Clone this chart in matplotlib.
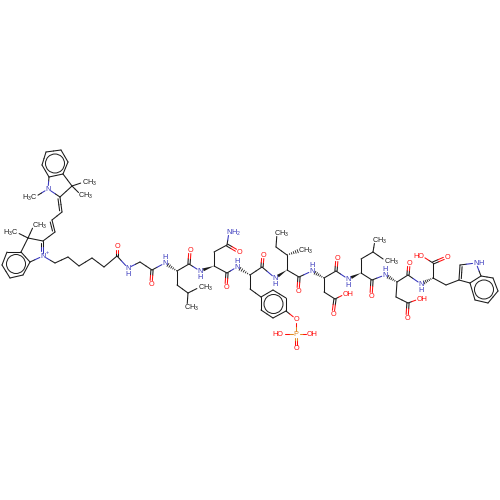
import matplotlib
matplotlib.use('Agg')
import matplotlib.pyplot as plt
from matplotlib.patches import Circle, Polygon
import numpy as np

plt.rcParams['font.family'] = ['Liberation Sans', 'DejaVu Sans']
plt.rcParams['mathtext.default'] = 'regular'

# atom positions, in pixels
atoms = """
u1 46 152
u2 61 150
u3 68 162
u4 63 174
u5 49 177
u6 42 165
un 48 189
uc2 60 197
uc3 72 186
um1 84 182
um2 81 195
um3 35 197
c1 62 212
c2 52 220
c3 55 232
lc2 43 241
lc3 28 238
lm1 34 225
lm2 16 232
l1 21 252
l2 7 252
l3 2 265
l4 10 278
l5 23 275
l6 30 262
ln 43 256
h1 55 263
h2 68 257
h3 79 266
h4 92 258
h5 104 267
co1 117 256
o1 117 246
n1 128 268
g1 140 262
co2 152 270
o2 151 284
n2 165 263
a1 177 271
co3 189 264
o3 190 250
b1 177 285
b2 188 293
m1 200 287
m2 187 307
n3 200 271
a2 214 266
b3 214 252
co4 227 245
n4 229 232
o4 239 252
co5 227 273
o5 226 287
n5 237 267
a3 250 275
co6 262 267
o6 263 255
b4 250 289
r1 261 297
r2 273 290
r3 286 298
r4 286 311
r5 273 318
r6 261 310
o7 296 319
p 296 334
o8 281 334
o9 309 334
o10 296 348
n6 275 278
a4 287 270
b5 287 255
m3 301 250
b6 276 247
m4 277 233
co7 299 277
o11 298 291
n7 312 271
a5 324 278
co8 336 271
o12 337 258
b7 324 292
co9 335 299
o13 333 314
o14 345 294
n8 348 279
a6 361 273
b8 361 259
b9 373 252
m5 375 240
m6 386 261
co10 372 280
o15 371 296
n9 385 275
a7 397 282
co11 408 275
o16 409 263
b10 396 297
co12 408 303
o17 407 318
o18 419 299
n10 421 284
a8 433 278
co13 433 263
o19 422 256
o20 447 257
b11 446 285
t3 459 280
t2 460 265
tn 476 263
t7a 481 276
t3a 470 283
t4 475 300
t5 488 303
t6 498 291
t7 493 278
""".split('\n')
atom_ids = [a.split()[0] for a in atoms if a]
atom_x = [float(a.split()[1]) for a in atoms if a]
atom_y = [float(a.split()[2]) for a in atoms if a]
pos = dict(zip(atom_ids, zip(atom_x, atom_y)))

single_bonds = """u1-u2 u3-u4 u5-u6 u4-uc3 u5-un un-uc2 uc2-uc3 uc3-um1 uc3-um2 un-um3 c1-c2 c3-lc2 lc2-lc3
lc3-lm1 lc3-lm2 lc3-l1 l1-l2 l3-l4 l5-l6 l6-ln ln-h1 h1-h2 h2-h3 h3-h4 h4-h5 h5-co1 co1-n1 n1-g1 g1-co2 co2-n2
a1-co3 a1-b1 b1-b2 b2-m1 b2-m2 co3-n3 a2-b3 b3-co4 co4-n4 a2-co5 co5-n5 a3-co6 a3-b4 b4-r1 r1-r2 r3-r4 r5-r6
r4-o7 o7-p p-o8 p-o9 co6-n6 a4-b5 b5-b6 b6-m4 a4-co7 co7-n7 a5-co8 a5-b7 b7-co9 co9-o14 co8-n8 a6-b8 b8-b9 b9-m5
b9-m6 a6-co10 co10-n9 a7-co11 a7-b10 b10-co12 co12-o18 co11-n10 a8-co13 co13-o19 a8-b11 b11-t3 t3-t3a t2-tn
tn-t7a t3a-t4 t4-t5 t5-t6 t6-t7 t7-t7a t7a-t3a u2-u3 u4-u5 u6-u1 l2-l3 l4-l5 l6-l1 r2-r3 r4-r5 r6-r1""".split()
double_bonds = """co1-o1 co2-o2 co3-o3 co4-o4 co5-o5 co6-o6 co7-o11 co8-o12 co9-o13 co10-o15 co11-o16 co12-o17
co13-o20 p-o10 uc2-c1 c2-c3 lc2-ln t3-t2""".split()
wedge_bonds = "a2-n3 a4-n6 a6-n8".split()
hash_bonds = "a1-n2 a3-n5 b5-m3 a5-n7 a7-n9 a8-n10".split()

# aromatic rings drawn with an inner circle
ring_x = [55, 16, 273.5, 484]
ring_y = [163.5, 264, 304, 289.5]
ring_r = [9.5, 9.5, 9.5, 9.5]

N_COL = '#3333BB'
O_COL = '#FF0D0D'
P_COL = '#E08A20'
BOND_COL = '#1a1a1a'

# element of each labelled atom, the rest are plain carbons
n_atoms = 'un ln n1 n2 n3 n4 n5 n6 n7 n8 n9 n10 tn'.split()
o_atoms = ['o%d' % i for i in range(1, 21)]
me_atoms = 'um1 um2 um3 lm1 lm2 m1 m2 m3 m4 m5 m6'.split()

label_text = ['CH$_3$', 'CH$_3$', 'H$_3$C', 'CH$_3$', 'H$_3$C', 'CH$_3$', 'CH$_3$', 'CH$_3$', 'CH$_3$', 'CH$_3$', 'CH$_3$',
              'NH$_2$', 'HO', 'OH', 'OH', 'OH', 'HO']
label_atom = ['um1', 'um2', 'um3', 'lm1', 'lm2', 'm1', 'm2', 'm3', 'm4', 'm5', 'm6', 'n4', 'o8', 'o9', 'o14', 'o18', 'o19']
h_below = ['n1', 'n3', 'n6', 'n8', 'n10']
h_above = ['n2', 'n5', 'n7', 'n9']

fig = plt.figure(figsize=(5, 5), dpi=100)
ax = fig.add_axes([0, 0, 1, 1])
ax.set_xlim(0, 500)
ax.set_ylim(500, 0)
ax.axis('off')


def col(a):
    if a in n_atoms:
        return N_COL
    if a in o_atoms:
        return O_COL
    if a == 'p':
        return P_COL
    return BOND_COL


def gap(a):
    if a in n_atoms or a in o_atoms or a == 'p' or a in me_atoms:
        return 3.5
    return 0.0


def ends(a, b):
    pa = np.array(pos[a])
    pb = np.array(pos[b])
    d = pb - pa
    u = d / np.hypot(*d)
    return pa + u * gap(a), pb - u * gap(b), u


def half_line(p, q, ca, cb):
    mid = (p + q) / 2
    ax.plot([p[0], mid[0]], [p[1], mid[1]], color=ca, lw=0.75, solid_capstyle='round')
    ax.plot([mid[0], q[0]], [mid[1], q[1]], color=cb, lw=0.75, solid_capstyle='round')


for b in single_bonds:
    a1, a2 = b.split('-')
    p, q, u = ends(a1, a2)
    half_line(p, q, col(a1), col(a2))

for b in double_bonds:
    a1, a2 = b.split('-')
    p, q, u = ends(a1, a2)
    n = np.array([-u[1], u[0]])
    if a2.startswith('o'):
        # C=O, symmetric
        half_line(p + n * 1.1, q + n * 1.1, col(a1), col(a2))
        half_line(p - n * 1.1, q - n * 1.1, col(a1), col(a2))
    else:
        # second line set off to one side
        half_line(p, q, col(a1), col(a2))
        half_line(p + n * 2.2 + u * 1.5, q + n * 2.2 - u * 1.5, col(a1), col(a2))

for b in wedge_bonds:
    a1, a2 = b.split('-')
    p, q, u = ends(a1, a2)
    n = np.array([-u[1], u[0]])
    ax.add_patch(Polygon([p, q + n * 1.5, q - n * 1.5], closed=True, fc=BOND_COL, ec='none'))

for b in hash_bonds:
    a1, a2 = b.split('-')
    p, q, u = ends(a1, a2)
    n = np.array([-u[1], u[0]])
    for t in np.linspace(0.05, 1, 6):
        c = p + (q - p) * t
        w = 1.6 * t
        ax.plot([c[0] - n[0] * w, c[0] + n[0] * w], [c[1] - n[1] * w, c[1] + n[1] * w], color=BOND_COL, lw=0.6)

for x, y, r in zip(ring_x, ring_y, ring_r):
    ax.add_patch(Circle((x, y), r, fc='none', ec=BOND_COL, lw=0.7))

FS = 5.2
for a in n_atoms + o_atoms + ['p']:
    if a in label_atom:
        continue
    x, y = pos[a]
    ax.text(x, y + 2.4, 'P' if a == 'p' else ('N' if a in n_atoms else 'O'), color=col(a), fontsize=FS, ha='center', va='baseline')

for a in h_below:
    x, y = pos[a]
    ax.text(x, y + 8.4, 'H', color=N_COL, fontsize=FS, ha='center', va='baseline')
for a in h_above:
    x, y = pos[a]
    ax.text(x, y - 3.6, 'H', color=N_COL, fontsize=FS, ha='center', va='baseline')
ax.text(pos['tn'][0] + 2.5, pos['tn'][1] + 2.4, 'H', color=N_COL, fontsize=FS, ha='left', va='baseline')
ax.text(pos['ln'][0] + 3, pos['ln'][1] - 1.5, '+', color=N_COL, fontsize=4, ha='left', va='baseline')

for t, a in zip(label_text, label_atom):
    x, y = pos[a]
    if t.startswith('H'):
        ax.text(x + 2.5, y + 2.4, t, color=col(a), fontsize=FS, ha='right', va='baseline')
    else:
        ax.text(x - 2.5, y + 2.4, t, color=col(a), fontsize=FS, ha='left', va='baseline')

fig.savefig('out.png', dpi=100)
